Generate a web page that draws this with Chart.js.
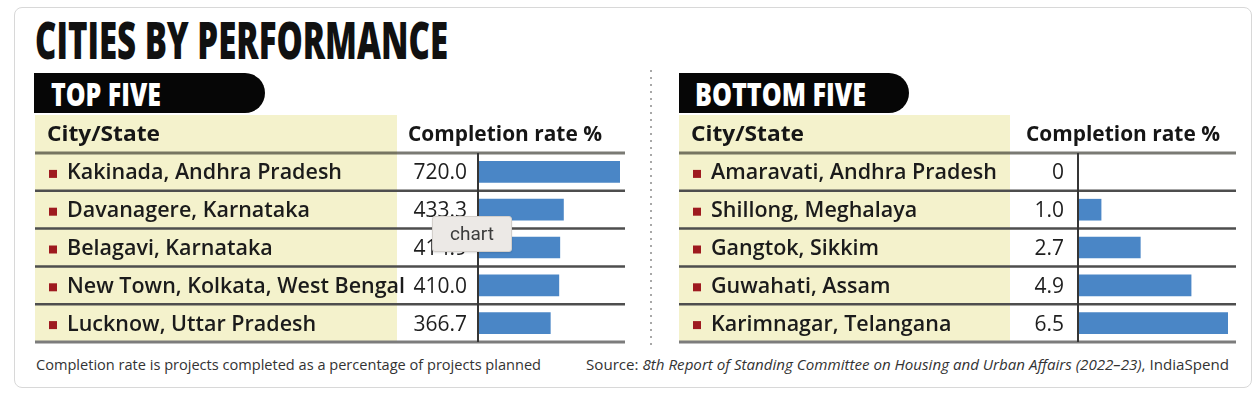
<!DOCTYPE html>
<html><head><meta charset="utf-8">
<script src="https://cdn.jsdelivr.net/npm/chart.js@4.4.1/dist/chart.umd.min.js"></script>
<style>
html,body{margin:0;padding:0;background:#fff;}
#stage{position:relative;width:1260px;height:394px;overflow:hidden;font-family:"Open Sans",sans-serif;color:#161616;}
.card{position:absolute;left:14px;top:7px;width:1236px;height:379px;border:1px solid #d8d8d8;border-radius:8px;background:#fff;}
.t{position:absolute;white-space:nowrap;transform-origin:0 0;}
.badge{position:absolute;background:#060606;height:40px;border-radius:0 20px 20px 0;}
canvas{position:absolute;}
.dots{position:absolute;left:650px;top:70px;width:2px;height:276px;background:repeating-linear-gradient(to bottom,#a8a8a8 0 2px,transparent 2px 7px);}
.tip{position:absolute;left:432px;top:216px;width:78px;height:34px;background:#ece9e6;border:1px solid #d3cfcb;border-radius:3px;font-family:Roboto,"Noto Sans",sans-serif;font-size:19px;line-height:34px;text-align:center;color:#3c3c3c;box-shadow:0 1px 2px rgba(0,0,0,0.12);}
</style></head><body>
<div id="stage">
  <div class="card"></div>
  <div class="badge" style="left:34px;top:73px;width:231px;"></div>
  <div class="badge" style="left:679px;top:73px;width:230px;"></div>
  <div class="dots"></div>
  <canvas id="topChart" width="595" height="231" style="left:35px;top:115px;"></canvas>
  <canvas id="bottomChart" width="562" height="231" style="left:679px;top:115px;"></canvas>
</div>
<script>
// ---- data ----
const title = "CITIES BY PERFORMANCE";
const topHeading = "TOP FIVE";
const bottomHeading = "BOTTOM FIVE";
const colCity = "City/State";
const colRate = "Completion rate %";
const topCities = ["Kakinada, Andhra Pradesh", "Davanagere, Karnataka", "Belagavi, Karnataka", "New Town, Kolkata, West Bengal", "Lucknow, Uttar Pradesh"];
const topRates = [720.0, 433.3, 414.9, 410.0, 366.7];
const bottomCities = ["Amaravati, Andhra Pradesh", "Shillong, Meghalaya", "Gangtok, Sikkim", "Guwahati, Assam", "Karimnagar, Telangana"];
const bottomRates = [0, 1.0, 2.7, 4.9, 6.5];
const noteText = "Completion rate is projects completed as a percentage of projects planned";
const sourceLead = "Source: ";
const sourceItalic = "8th Report of Standing Committee on Housing and Urban Affairs (2022\u201323)";
const sourceTail = ", IndiaSpend";

// ---- static text ----
const stage = document.getElementById('stage');
function addText(html, x, baseline, fs, weight, color, targetW, extra) {
  const el = document.createElement('div');
  el.className = 't';
  el.innerHTML = html;
  el.style.left = x + 'px';
  el.style.fontSize = fs + 'px';
  el.style.lineHeight = fs + 'px';
  el.style.top = (baseline - 0.888 * fs) + 'px';
  el.style.fontWeight = weight;
  el.style.color = color;
  if (extra) Object.assign(el.style, extra);
  stage.appendChild(el);
  if (targetW) {
    const w = el.getBoundingClientRect().width;
    el.style.transform = 'scaleX(' + (targetW / w) + ')';
  }
  return el;
}
addText(title, 35, 59, 52, 800, '#111', 413);
addText(topHeading, 51, 107, 31, 800, '#fff', 110);
addText(bottomHeading, 695, 107, 31, 800, '#fff', 171);
addText(colCity, 47, 141, 20.5, 700, '#161616', 113);
addText(colRate, 408, 141, 20.5, 700, '#161616', 194);
addText(colCity, 691, 141, 20.5, 700, '#161616', 113);
addText(colRate, 1026, 141, 20.5, 700, '#161616', 194);
addText(noteText, 36, 371, 14.5, 400, '#333', 505);
addText(sourceLead + '<i>' + sourceItalic + '</i>' + sourceTail, 586, 371, 14.5, 400, '#333', 643);

// ---- charts ----
const LABEL_FONT = '600 21px "Open Sans"';
const VALUE_FONT = '400 21px "Open Sans"';
let labelScale = null;
function fmt(v) { return v === 0 ? '0' : v.toFixed(1); }

function tablePlugin(cfg) {
  return {
    id: 'table',
    beforeDatasetsDraw(chart) {
      const ctx = chart.ctx, ca = chart.chartArea, ys = chart.scales.y;
      const n = cfg.cats.length;
      ctx.save();
      ctx.fillStyle = '#f4f2cc';
      ctx.fillRect(0, 0, cfg.yellowW, ca.bottom);
      const rowH = (ca.bottom - ca.top) / n;
      for (let k = 0; k <= n; k++) {
        const y = ca.top + k * rowH;
        ctx.beginPath();
        if (k === 0) { ctx.strokeStyle = 'rgba(40,40,30,0.62)'; ctx.lineWidth = 3; }
        else if (k === n) { ctx.strokeStyle = '#7c7c7c'; ctx.lineWidth = 3; }
        else { ctx.strokeStyle = '#4e4e4e'; ctx.lineWidth = 2.5; }
        ctx.moveTo(0, y); ctx.lineTo(cfg.lineEnd, y); ctx.stroke();
      }
      ctx.font = LABEL_FONT;
      if (labelScale === null) labelScale = 275 / ctx.measureText(topCities[0]).width;
      for (let i = 0; i < n; i++) {
        const y = ys.getPixelForValue(i);
        ctx.fillStyle = '#9e1a1f';
        ctx.fillRect(14, y - 2, 8, 8);
        ctx.fillStyle = '#1b1b1b';
        ctx.font = LABEL_FONT;
        ctx.textAlign = 'left';
        ctx.textBaseline = 'alphabetic';
        ctx.save();
        ctx.translate(32, y + 7.5);
        ctx.scale(labelScale, 1);
        ctx.fillText(cfg.cats[i], 0, 0);
        ctx.restore();
        ctx.font = VALUE_FONT;
        ctx.textAlign = 'right';
        ctx.fillStyle = '#1e1e1e';
        ctx.fillText(fmt(cfg.vals[i]), cfg.valueRight, y + 7.5);
      }
      ctx.restore();
    },
    afterDatasetsDraw(chart) {
      const ctx = chart.ctx, ca = chart.chartArea;
      ctx.save();
      ctx.strokeStyle = '#353535';
      ctx.lineWidth = 2;
      ctx.beginPath();
      ctx.moveTo(ca.left, ca.top);
      ctx.lineTo(ca.left, ca.bottom);
      ctx.stroke();
      ctx.restore();
    }
  };
}

function makePanel(id, cfg) {
  const canvas = document.getElementById(id);
  const W = canvas.width;
  new Chart(canvas, {
    type: 'bar',
    data: { labels: cfg.cats, datasets: [{ data: cfg.vals, backgroundColor: '#4a86c6', borderWidth: 0, barThickness: 21 }] },
    options: {
      indexAxis: 'y', responsive: false, animation: false, events: [],
      layout: { padding: { left: cfg.axisX, right: W - cfg.barEnd, top: 38, bottom: 4 } },
      scales: {
        x: { display: false, min: 0, max: Math.max(...cfg.vals) },
        y: { display: false }
      },
      plugins: { legend: { display: false }, tooltip: { enabled: false } }
    },
    plugins: [tablePlugin(cfg)]
  });
}

makePanel('topChart', { cats: topCities, vals: topRates, yellowW: 362, axisX: 443, barEnd: 585, lineEnd: 590, valueRight: 432 });
makePanel('bottomChart', { cats: bottomCities, vals: bottomRates, yellowW: 331, axisX: 399, barEnd: 549, lineEnd: 557, valueRight: 385 });

const tip = document.createElement('div');
tip.className = 'tip';
tip.textContent = 'chart';
stage.appendChild(tip);
</script>
</body></html>
